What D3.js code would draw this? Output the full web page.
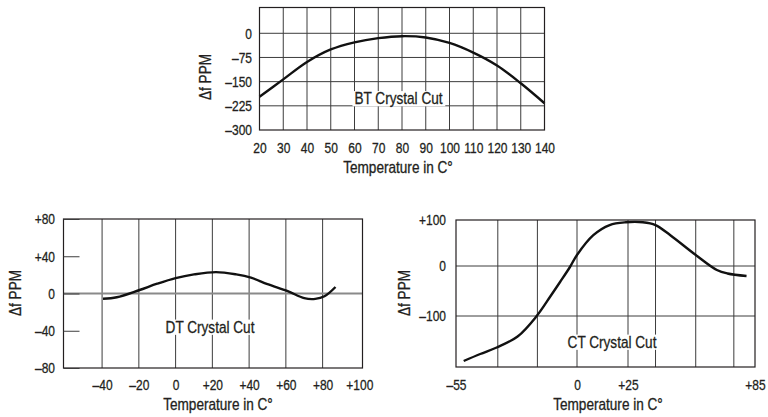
<!DOCTYPE html>
<html>
<head>
<meta charset="utf-8">
<script src="https://cdn.jsdelivr.net/npm/d3@7"></script>
<style>
body { margin: 0; background: #fff; }
svg text { font-family: "Liberation Sans", Arial, sans-serif; fill: #231f20; stroke: #231f20; stroke-width: 0.3px; }
</style>
</head>
<body>
<script>
// BT crystal cut
var btTemp = [20, 30, 40, 50, 60, 70, 80, 90, 100, 110, 120, 130, 140]
var btPpm = [-197, -143, -89, -50, -28, -15, -9, -13, -30, -60, -100, -155, -217]
var btXTicks = [20, 30, 40, 50, 60, 70, 80, 90, 100, 110, 120, 130, 140]
var btYTicks = [0, -75, -150, -225, -300]
var btHGrid = [0, -75, -150, -225]

// DT crystal cut
var dtTemp = [-39.5, -32, -20, -10, 0, 10, 22, 33, 41, 50, 61, 70, 76, 81, 87]
var dtPpm = [-5.7, -4, 3.5, 10.5, 16.5, 20.5, 23, 20.5, 17, 10, 2.5, -5, -5.8, -3, 7]
var dtXTicks = [-40, -20, 0, 20, 40, 60, 80, 100]
var dtVGrid = [-40, -20, 0, 20, 40, 60, 80]
var dtYTicks = [80, 40, 0, -40, -80]

// CT crystal cut
var ctTemp = [-51.5, -44, -36.5, -27, -18.5, -12, -7.7, -3.2, 0, 8, 16, 24, 32, 38, 45, 57, 67, 72, 81]
var ctPpm = [-190, -176, -163, -141, -101, -60, -32, -2, 24, 67, 89, 95, 95, 89, 67, 24, -8, -15, -20]
var ctXTicks = [-55, 0, 25, 85]
var ctVGrid = [-36, -18, 0, 25, 38, 57, 75]
var ctYTicks = [100, 0, -100]
var ctHGrid = [0, -100]

// no narrow font installed, so squeeze Liberation Sans sideways
var tickSx = 0.8
var textSx = 0.85

var svg = d3.select('body').append('svg')
    .attr('width', 768)
    .attr('height', 417)

function signed(d) {
    if (d > 0) return '+' + d
    if (d < 0) return '\u2013' + Math.abs(d)
    return '0'
}
function plain(d) {
    return d < 0 ? '\u2013' + Math.abs(d) : String(d)
}

function panel(p) {
    var g = svg.append('g')
    var xr = d3.extent(p.x.range()), yr = d3.extent(p.y.range())

    g.selectAll('line.v').data(p.vGrid).enter().append('line')
        .attr('x1', p.x).attr('x2', p.x)
        .attr('y1', yr[0]).attr('y2', yr[1])
        .attr('stroke', '#3c3c3c').attr('stroke-width', 1)

    g.selectAll('line.h').data(p.hGrid).enter().append('line')
        .attr('x1', xr[0]).attr('x2', xr[1])
        .attr('y1', p.y).attr('y2', p.y)
        .attr('stroke', p.hColor).attr('stroke-width', p.hWidth)

    // label sits on a white patch so the grid breaks round it
    var lg = g.append('g')
        .attr('transform', 'translate(' + p.label[0] + ',' + p.label[1] + ')')
    var lab = lg.append('text')
        .attr('dy', '0.35em')
        .attr('text-anchor', 'middle')
        .attr('font-size', 16)
        .attr('transform', 'scale(' + textSx + ',1)')
        .text(p.name)
    var bb = lab.node().getBBox()
    lg.insert('rect', 'text')
        .attr('x', bb.x * textSx - 2).attr('y', bb.y + 1)
        .attr('width', bb.width * textSx + 4).attr('height', bb.height - 2)
        .attr('fill', '#fff')

    var line = d3.line()
        .x(function(d) { return p.x(d[0]) })
        .y(function(d) { return p.y(d[1]) })
        .curve(d3.curveCatmullRom.alpha(0.5))
    g.append('path')
        .datum(d3.zip(p.temp, p.ppm))
        .attr('d', line)
        .attr('fill', 'none')
        .attr('stroke', '#111')
        .attr('stroke-width', 2.4)

    g.append('rect')
        .attr('x', xr[0]).attr('y', yr[0])
        .attr('width', xr[1] - xr[0]).attr('height', yr[1] - yr[0])
        .attr('fill', 'none')
        .attr('stroke', '#231f20')
        .attr('stroke-width', 1.2)

    var xAxis = d3.axisBottom(p.x)
        .tickValues(p.xTicks)
        .tickSize(0)
        .tickPadding(p.xPad)
        .tickFormat(p.xFmt)
    g.append('g')
        .attr('transform', 'translate(0,' + yr[1] + ')')
        .call(xAxis)
        .attr('font-size', 15)
        .call(function(a) {
            a.select('.domain').remove()
            a.selectAll('.tick text').attr('transform', 'scale(' + tickSx + ',1)')
        })

    var yAxis = d3.axisLeft(p.y)
        .tickValues(p.yTicks)
        .tickSizeInner(p.yTick)
        .tickSizeOuter(0)
        .tickPadding(p.yPad)
        .tickFormat(p.yFmt)
    g.append('g')
        .attr('transform', 'translate(' + xr[0] + ',0)')
        .call(yAxis)
        .attr('font-size', 15)
        .call(function(a) {
            a.select('.domain').remove()
            a.selectAll('.tick line').attr('stroke', '#3c3c3c')
            a.selectAll('.tick text')
                .attr('x', -p.yPad / tickSx)
                .attr('transform', 'scale(' + tickSx + ',1)')
        })

    g.append('text')
        .attr('transform', 'translate(' + p.xTitle[0] + ',' + p.xTitle[1] + ') scale(' + textSx + ',1)')
        .attr('dy', '0.35em')
        .attr('text-anchor', 'middle')
        .attr('font-size', 16)
        .text('Temperature in C\u00b0')

    g.append('text')
        .attr('transform', 'translate(' + p.yTitle[0] + ',' + p.yTitle[1] + ') rotate(-90) scale(' + textSx + ',1)')
        .attr('dy', '0.35em')
        .attr('text-anchor', 'middle')
        .attr('font-size', 16)
        .text('\u0394f PPM')
}

panel({
    name: 'BT Crystal Cut',
    temp: btTemp, ppm: btPpm,
    x: d3.scaleLinear().domain([20, 140]).range([259.5, 544.5]),
    y: d3.scaleLinear().domain([-300, 80]).range([130, 7.5]),
    vGrid: btXTicks, hGrid: btHGrid, hColor: '#3c3c3c', hWidth: 1,
    xTicks: btXTicks, yTicks: btYTicks, xFmt: plain, yFmt: plain,
    xPad: 12, yPad: 7.5, yTick: 0,
    label: [398.5, 98.5], xTitle: [398, 167], yTitle: [205, 77]
})

panel({
    name: 'DT Crystal Cut',
    temp: dtTemp, ppm: dtPpm,
    x: d3.scaleLinear().domain([-61, 101.7]).range([63.5, 362.5]),
    y: d3.scaleLinear().domain([-80, 80]).range([368, 219]),
    vGrid: dtVGrid, hGrid: [0], hColor: '#8a8a8a', hWidth: 2,
    xTicks: dtXTicks, yTicks: dtYTicks, xFmt: signed, yFmt: signed,
    xPad: 11, yPad: 8.5, yTick: -16,
    label: [210, 327], xTitle: [218, 404], yTitle: [15, 293]
})

panel({
    name: 'CT Crystal Cut',
    temp: ctTemp, ppm: ctPpm,
    x: d3.scaleLinear().domain([-55, 0, 25, 85]).range([456, 577, 628, 755]),
    y: d3.scaleLinear().domain([-202, -100, 0, 100]).range([367, 316, 266, 220]),
    vGrid: ctVGrid, hGrid: ctHGrid, hColor: '#3c3c3c', hWidth: 1,
    xTicks: ctXTicks, yTicks: ctYTicks, xFmt: signed, yFmt: signed,
    xPad: 12, yPad: 10, yTick: 0,
    label: [612, 342], xTitle: [608, 404], yTitle: [404, 293]
})
</script>
</body>
</html>
